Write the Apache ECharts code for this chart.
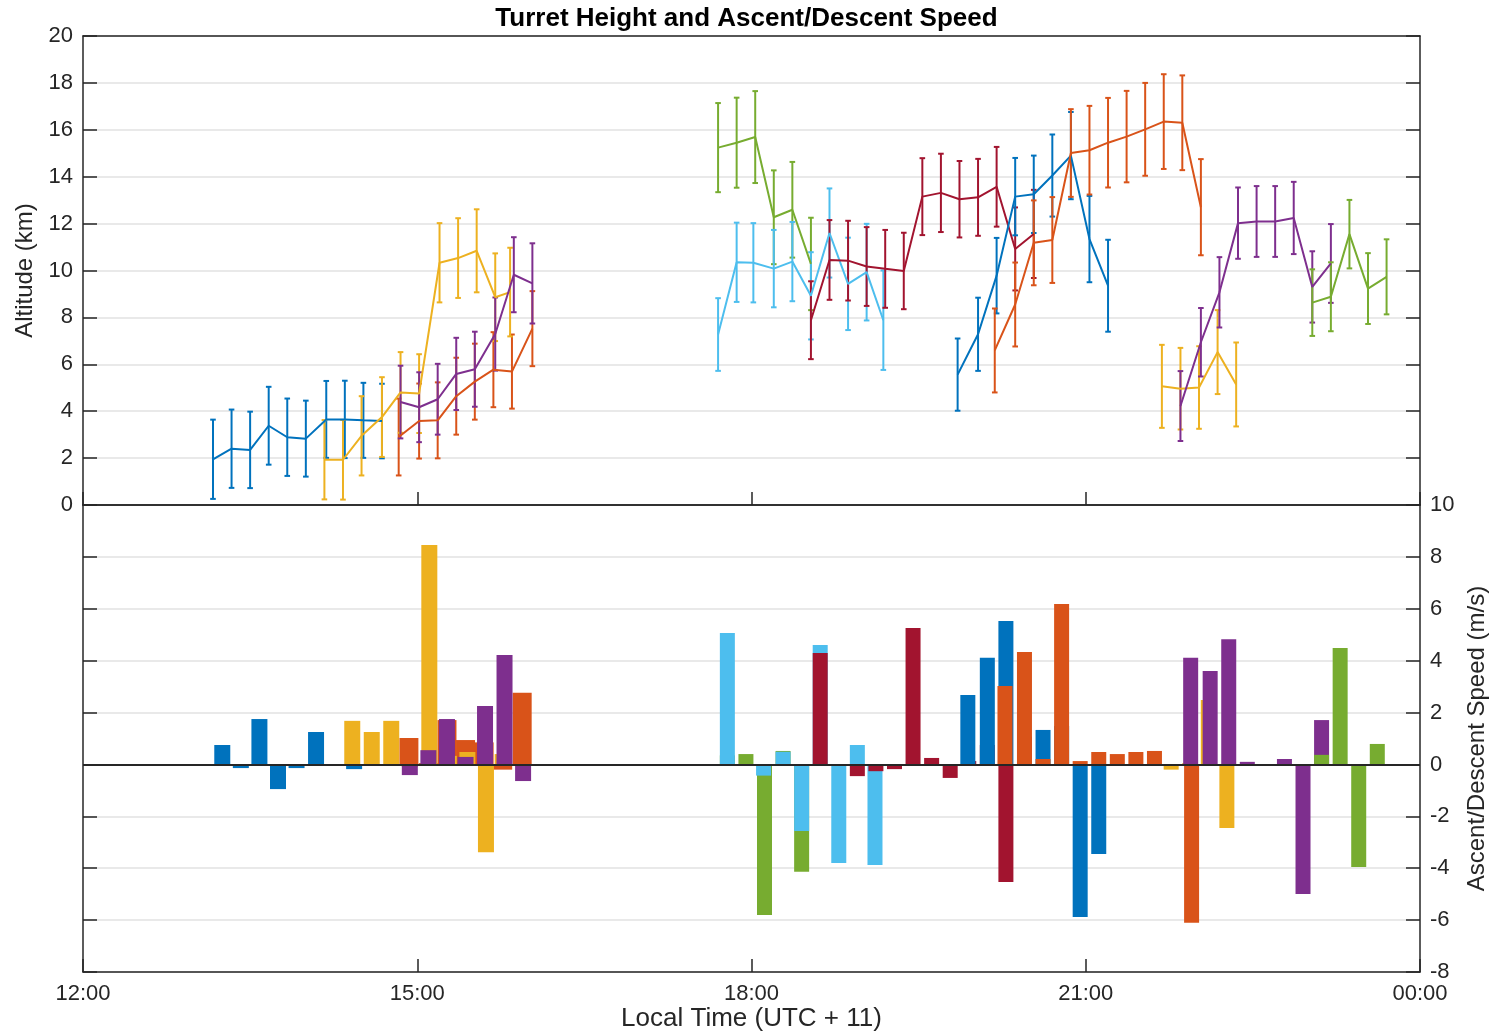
<!DOCTYPE html>
<html>
<head>
<meta charset="utf-8">
<title>Turret Height and Ascent/Descent Speed</title>
<script src="https://cdn.jsdelivr.net/npm/echarts@6.0.0/dist/echarts.min.js"></script>
<style>
  html, body { margin: 0; padding: 0; background: #ffffff; }
  #chart { width: 1493px; height: 1034px; }
</style>
</head>
<body>
<div id="chart"></div>
<script>
// ---- Turret tracks: sample times (local), altitude (km), uncertainty (km) ----
// ---- and ascent/descent speed (m/s) between consecutive samples ----

const blue1Time = ['13:10','13:20','13:30','13:40','13:50','14:00','14:11','14:21','14:31','14:41'];
const blue1Alt  = [1.95, 2.40, 2.35, 3.38, 2.89, 2.83, 3.65, 3.65, 3.61, 3.58];
const blue1Err  = [1.69, 1.67, 1.63, 1.66, 1.65, 1.62, 1.64, 1.65, 1.60, 1.59];
const blue1Rate = [0.75, -0.14, 1.75, -0.95, -0.14, 1.25, 0.0, -0.18, -0.05];

const orange1Time = ['14:50','15:01','15:11','15:21','15:31','15:41','15:51','16:02'];
const orange1Alt  = [2.90, 3.58, 3.61, 4.64, 5.26, 5.77, 5.69, 7.52];
const orange1Err  = [1.64, 1.60, 1.62, 1.64, 1.62, 1.60, 1.58, 1.60];
const orange1Rate = [1.02, 0.05, 1.71, 0.94, 0.85, -0.20, 2.76];

const yellow1Time = ['14:10','14:20','14:30','14:41','14:51','15:01','15:12','15:22','15:32','15:42','15:50'];
const yellow1Alt  = [1.93, 1.93, 2.95, 3.75, 4.80, 4.75, 10.33, 10.53, 10.84, 8.86, 9.08];
const yellow1Err  = [1.69, 1.70, 1.69, 1.70, 1.72, 1.68, 1.69, 1.70, 1.77, 1.87, 1.89];
const yellow1Rate = [0.0, 1.68, 1.25, 1.68, -0.10, 8.46, 0.33, 0.48, -3.38, 0.40];

const purple1Time = ['14:51','15:01','15:11','15:21','15:31','15:42','15:52','16:02'];
const purple1Alt  = [4.39, 4.17, 4.51, 5.59, 5.79, 7.29, 9.82, 9.45];
const purple1Err  = [1.55, 1.49, 1.51, 1.54, 1.60, 1.56, 1.60, 1.71];
const purple1Rate = [-0.41, 0.55, 1.75, 0.29, 2.25, 4.22, -0.64];

const green1Time = ['17:42','17:52','18:02','18:12','18:22','18:32'];
const green1Alt  = [15.24, 15.45, 15.69, 12.27, 12.59, 10.28];
const green1Err  = [1.90, 1.92, 1.96, 2.00, 2.04, 1.97];
const green1Rate = [0.35, 0.40, -5.80, 0.52, -4.14];

const cyanTime = ['17:42','17:52','18:01','18:12','18:22','18:32','18:42','18:52','19:02','19:11'];
const cyanAlt  = [7.27, 10.35, 10.33, 10.08, 10.38, 8.92, 11.60, 9.43, 9.93, 7.88];
const cyanErr  = [1.55, 1.69, 1.69, 1.65, 1.69, 1.86, 1.90, 1.97, 2.06, 2.12];
const cyanRate = [5.07, -0.03, -0.43, 0.49, -2.57, 4.60, -3.80, 0.75, -3.88];

const crimsonTime = ['18:32','18:42','18:52','19:02','19:12','19:22','19:32','19:42','19:52','20:02','20:12','20:22','20:32'];
const crimsonAlt  = [7.88, 10.45, 10.42, 10.17, 10.07, 9.98, 13.15, 13.31, 13.04, 13.12, 13.57, 10.92, 11.56];
const crimsonErr  = [1.66, 1.70, 1.70, 1.68, 1.66, 1.63, 1.64, 1.67, 1.63, 1.64, 1.70, 1.77, 1.88];
const crimsonRate = [4.30, -0.05, -0.45, -0.26, -0.18, 5.26, 0.25, -0.52, 0.13, 0.75, -4.53, 1.07];

const blue2Time = ['19:51','20:02','20:12','20:22','20:32','20:42','20:52','21:02','21:12'];
const blue2Alt  = [5.56, 7.28, 9.78, 13.15, 13.25, 14.05, 14.90, 11.34, 9.35];
const blue2Err  = [1.54, 1.56, 1.61, 1.65, 1.65, 1.75, 1.86, 1.84, 1.96];
const blue2Rate = [2.68, 4.11, 5.53, 0.17, 1.33, 1.48, -5.88, -3.45];

const orange2Time = ['20:11','20:22','20:32','20:42','20:52','21:02','21:12','21:22','21:32','21:42','21:52','22:02'];
const orange2Alt  = [6.59, 8.55, 11.18, 11.30, 15.01, 15.13, 15.45, 15.71, 16.02, 16.35, 16.30, 12.70];
const orange2Err  = [1.79, 1.79, 1.81, 1.83, 1.87, 1.89, 1.91, 1.95, 1.98, 2.02, 2.02, 2.05];
const orange2Rate = [3.02, 4.33, 0.21, 6.18, 0.13, 0.48, 0.40, 0.48, 0.52, -0.05, -6.10];

const yellow2Time = ['21:41','21:51','22:01','22:11','22:21'];
const yellow2Alt  = [5.06, 4.96, 5.01, 6.52, 5.14];
const yellow2Err  = [1.77, 1.74, 1.76, 1.79, 1.79];
const yellow2Rate = [-0.20, 0.05, 2.48, -2.45];

const purple2Time = ['21:51','22:02','22:12','22:22','22:32','22:42','22:52','23:02','23:12'];
const purple2Alt  = [4.22, 6.94, 9.07, 12.02, 12.09, 12.09, 12.24, 9.30, 10.30];
const purple2Err  = [1.49, 1.46, 1.50, 1.52, 1.51, 1.51, 1.54, 1.52, 1.68];
const purple2Rate = [4.11, 3.60, 4.83, 0.10, 0.0, 0.21, -4.99, 1.71];

const green2Time = ['23:02','23:12','23:22','23:32','23:42'];
const green2Alt  = [8.63, 8.88, 11.55, 9.23, 9.73];
const green2Err  = [1.42, 1.47, 1.46, 1.51, 1.60];
const green2Rate = [0.37, 4.49, -3.95, 0.79];

// Axis ranges and tick steps
const timeRange   = [720, 1440];   // minutes after midnight: 12:00 .. 00:00
const timeStep    = 180;
const altRange    = [0, 20];
const altStep     = 2;
const speedRange  = [-8, 10];
const speedStep   = 2;

// ---- styling ----
const FONT  = '"Liberation Sans", Arial, Helvetica, sans-serif';
const INK   = '#262626';
const GRIDC = '#e2e2e2';
const COL = {
  blue:    '#0072BD',
  orange:  '#D95319',
  yellow:  '#EDB120',
  purple:  '#7E2F8E',
  green:   '#77AC30',
  cyan:    '#4DBEEE',
  crimson: '#A2142F'
};

function toMinutes(s) {
  const [h, m] = s.split(':').map(Number);
  return h * 60 + m;
}
function clockLabel(v) {
  const h = Math.floor(v / 60) % 24;
  const m = Math.round(v % 60);
  return String(h).padStart(2, '0') + ':' + String(m).padStart(2, '0');
}

// Plot order (later tracks paint over earlier ones)
const tracks = [
  { time: blue1Time,   alt: blue1Alt,   err: blue1Err,   rate: blue1Rate,   color: COL.blue,    barPx: 16 },
  { time: orange1Time, alt: orange1Alt, err: orange1Err, rate: orange1Rate, color: COL.orange,  barPx: 19 },
  { time: yellow1Time, alt: yellow1Alt, err: yellow1Err, rate: yellow1Rate, color: COL.yellow,  barPx: 16 },
  { time: purple1Time, alt: purple1Alt, err: purple1Err, rate: purple1Rate, color: COL.purple,  barPx: 16 },
  { time: green1Time,  alt: green1Alt,  err: green1Err,  rate: green1Rate,  color: COL.green,   barPx: 15 },
  { time: cyanTime,    alt: cyanAlt,    err: cyanErr,    rate: cyanRate,    color: COL.cyan,    barPx: 15 },
  { time: crimsonTime, alt: crimsonAlt, err: crimsonErr, rate: crimsonRate, color: COL.crimson, barPx: 15 },
  { time: blue2Time,   alt: blue2Alt,   err: blue2Err,   rate: blue2Rate,   color: COL.blue,    barPx: 15 },
  { time: orange2Time, alt: orange2Alt, err: orange2Err, rate: orange2Rate, color: COL.orange,  barPx: 15 },
  { time: yellow2Time, alt: yellow2Alt, err: yellow2Err, rate: yellow2Rate, color: COL.yellow,  barPx: 15 },
  { time: purple2Time, alt: purple2Alt, err: purple2Err, rate: purple2Rate, color: COL.purple,  barPx: 15 },
  { time: green2Time,  alt: green2Alt,  err: green2Err,  rate: green2Rate,  color: COL.green,   barPx: 15 }
];

// vertical error bar with short caps
function errorBarRenderer(color) {
  return function (params, api) {
    const t = api.value(0), v = api.value(1), e = api.value(2);
    const hi = api.coord([t, v + e]);
    const lo = api.coord([t, v - e]);
    const cap = 2.8;
    const st = { stroke: color, lineWidth: 2 };
    return {
      type: 'group',
      children: [
        { type: 'line', shape: { x1: hi[0], y1: hi[1], x2: lo[0], y2: lo[1] }, style: st },
        { type: 'line', shape: { x1: hi[0] - cap, y1: hi[1], x2: hi[0] + cap, y2: hi[1] }, style: st },
        { type: 'line', shape: { x1: lo[0] - cap, y1: lo[1], x2: lo[0] + cap, y2: lo[1] }, style: st }
      ]
    };
  };
}

// speed bar centred between two samples, anchored on zero
function speedBarRenderer(color, px) {
  return function (params, api) {
    const t = api.value(0), v = api.value(1);
    const p0 = api.coord([t, 0]);
    const p1 = api.coord([t, v]);
    return {
      type: 'rect',
      shape: {
        x: p0[0] - px / 2,
        y: Math.min(p0[1], p1[1]),
        width: px,
        height: Math.abs(p1[1] - p0[1])
      },
      style: { fill: color }
    };
  };
}

const series = [];
tracks.forEach(function (tr, k) {
  const mins = tr.time.map(toMinutes);
  series.push({
    type: 'line',
    name: 'alt' + k,
    xAxisIndex: 0, yAxisIndex: 0,
    data: mins.map((m, i) => [m, tr.alt[i]]),
    symbol: 'none',
    lineStyle: { color: tr.color, width: 2 },
    itemStyle: { color: tr.color },
    silent: true
  });
  series.push({
    type: 'custom',
    name: 'err' + k,
    xAxisIndex: 0, yAxisIndex: 0,
    data: mins.map((m, i) => [m, tr.alt[i], tr.err[i]]),
    encode: { x: 0, y: 1 },
    renderItem: errorBarRenderer(tr.color),
    silent: true
  });
  series.push({
    type: 'custom',
    name: 'rate' + k,
    xAxisIndex: 2, yAxisIndex: 2,
    data: tr.rate.map((r, i) => [(mins[i] + mins[i + 1]) / 2, r]),
    encode: { x: 0, y: 1 },
    renderItem: speedBarRenderer(tr.color, tr.barPx),
    silent: true
  });
});

// zero reference line of the speed panel
series.push({
  type: 'line',
  name: 'zero',
  xAxisIndex: 2, yAxisIndex: 2,
  data: [],
  z: 10,
  markLine: {
    silent: true,
    symbol: 'none',
    label: { show: false },
    lineStyle: { color: INK, width: 2, type: 'solid' },
    data: [{ yAxis: 0 }]
  }
});

const lineStyleAxis = { color: INK, width: 1.5 };
const tickInside = (len) => ({ show: true, inside: true, length: len, lineStyle: { color: INK, width: 1.5 } });

function timeAxis(gridIndex, position, withLabels, withTicks) {
  return {
    type: 'value',
    gridIndex: gridIndex,
    position: position,
    min: timeRange[0], max: timeRange[1], interval: timeStep,
    axisLine: { show: true, onZero: false, lineStyle: lineStyleAxis },
    axisTick: withTicks ? tickInside(13) : { show: false },
    splitLine: { show: false },
    axisLabel: withLabels ? {
      show: true, margin: 11, color: INK, fontFamily: FONT, fontSize: 22,
      formatter: clockLabel
    } : { show: false }
  };
}

function valueAxis(gridIndex, position, range, step, withLabels, withGrid) {
  return {
    type: 'value',
    gridIndex: gridIndex,
    position: position,
    min: range[0], max: range[1], interval: step,
    axisLine: { show: true, onZero: false, lineStyle: lineStyleAxis },
    axisTick: tickInside(14),
    splitLine: withGrid ? { show: true, lineStyle: { color: GRIDC, width: 1.5 } } : { show: false },
    axisLabel: withLabels ? { show: true, margin: 10, color: INK, fontFamily: FONT, fontSize: 22 } : { show: false }
  };
}

const xAxes = [
  timeAxis(0, 'bottom', false, true),
  timeAxis(0, 'top', false, false),
  timeAxis(1, 'bottom', true, true),
  timeAxis(1, 'top', false, false)
];
xAxes[2].name = 'Local Time (UTC + 11)';
xAxes[2].nameLocation = 'middle';
xAxes[2].nameGap = 30;
xAxes[2].nameTextStyle = { color: INK, fontFamily: FONT, fontSize: 26 };

const yAxes = [
  valueAxis(0, 'left', altRange, altStep, true, true),
  valueAxis(0, 'right', altRange, altStep, false, false),
  valueAxis(1, 'right', speedRange, speedStep, true, true),
  valueAxis(1, 'left', speedRange, speedStep, false, false)
];
yAxes[0].name = 'Altitude (km)';
yAxes[0].nameLocation = 'middle';
yAxes[0].nameRotate = 90;
yAxes[0].nameGap = 36;
yAxes[0].nameTextStyle = { color: INK, fontFamily: FONT, fontSize: 24 };
yAxes[2].name = 'Ascent/Descent Speed (m/s)';
yAxes[2].nameLocation = 'middle';
yAxes[2].nameRotate = 90;
yAxes[2].nameGap = 42;
yAxes[2].nameTextStyle = { color: INK, fontFamily: FONT, fontSize: 24 };

const chart = echarts.init(document.getElementById('chart'), null, { renderer: 'canvas' });
chart.setOption({
  backgroundColor: '#ffffff',
  animation: false,
  title: {
    text: 'Turret Height and Ascent/Descent Speed',
    left: 'center',
    top: 6,
    padding: 0,
    textStyle: { color: '#000000', fontFamily: FONT, fontSize: 26, fontWeight: 'bold' }
  },
  grid: [
    { left: 83, top: 36, width: 1337, height: 469, containLabel: false, outerBoundsMode: 'none' },
    { left: 83, top: 505, width: 1337, height: 467, containLabel: false, outerBoundsMode: 'none' }
  ],
  xAxis: xAxes,
  yAxis: yAxes,
  series: series
});
</script>
</body>
</html>
